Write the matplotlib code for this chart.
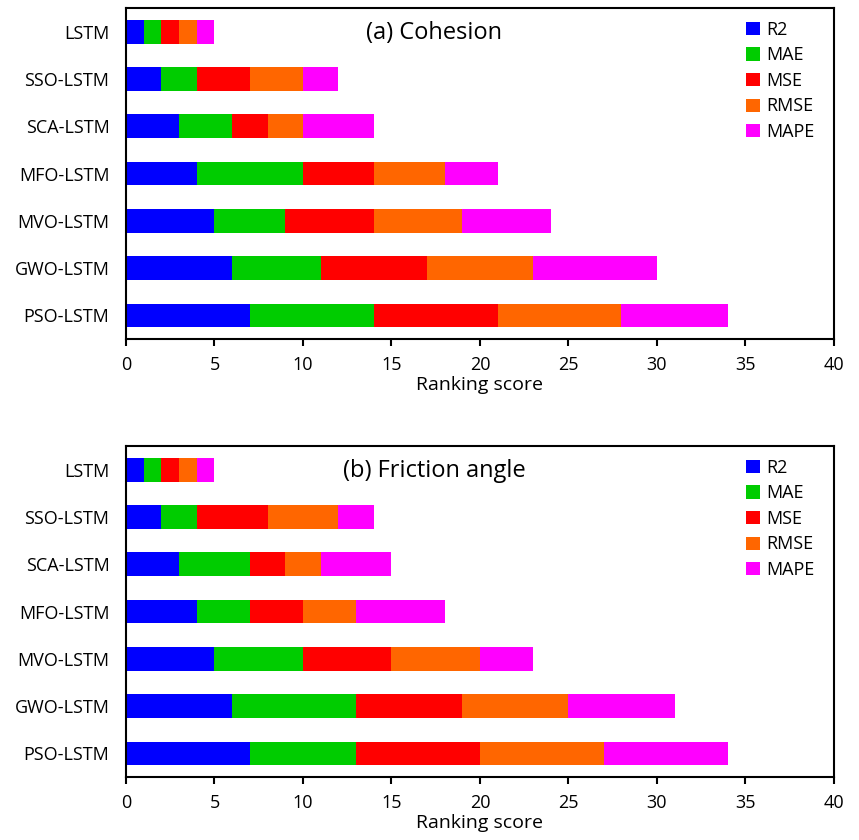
import matplotlib.pyplot as plt
import numpy as np

plt.rcParams['font.family'] = ['Open Sans', 'DejaVu Sans']

models = ['LSTM', 'SSO-LSTM', 'SCA-LSTM', 'MFO-LSTM', 'MVO-LSTM', 'GWO-LSTM', 'PSO-LSTM']
metrics = ['R2', 'MAE', 'MSE', 'RMSE', 'MAPE']
colors = ['#0000FF', '#00CC00', '#FF0000', '#FF6600', '#FF00FF']

# ranking scores per metric, (a) cohesion
coh_r2 = [1, 2, 3, 4, 5, 6, 7]
coh_mae = [1, 2, 3, 6, 4, 5, 7]
coh_mse = [1, 3, 2, 4, 5, 6, 7]
coh_rmse = [1, 3, 2, 4, 5, 6, 7]
coh_mape = [1, 2, 4, 3, 5, 7, 6]

# (b) friction angle
fri_r2 = [1, 2, 3, 4, 5, 6, 7]
fri_mae = [1, 2, 4, 3, 5, 7, 6]
fri_mse = [1, 4, 2, 3, 5, 6, 7]
fri_rmse = [1, 4, 2, 3, 5, 6, 7]
fri_mape = [1, 2, 4, 5, 3, 6, 7]

panels = [
    ('(a) Cohesion', [coh_r2, coh_mae, coh_mse, coh_rmse, coh_mape]),
    ('(b) Friction angle', [fri_r2, fri_mae, fri_mse, fri_rmse, fri_mape]),
]

fig = plt.figure(figsize=(8.59, 8.4), dpi=100)
boxes = [[0.1467, 0.5964, 0.824, 0.394], [0.1467, 0.075, 0.824, 0.394]]

for box, (title, series) in zip(boxes, panels):
    ax = fig.add_axes(box)
    y = np.arange(len(models))
    left = np.zeros(len(models))
    for vals, name, c in zip(series, metrics, colors):
        ax.barh(y, vals, left=left, height=0.5, color=c, label=name)
        left += np.array(vals)
    ax.set_yticks(y)
    ax.set_yticklabels(models, fontsize=13)
    ax.set_ylim(6.5, -0.5)
    ax.set_xlim(0, 40)
    ax.set_xticks(range(0, 41, 5))
    ax.tick_params(axis='x', labelsize=13, direction='out', length=5, width=1.5, pad=7)
    ax.tick_params(axis='y', length=0, pad=12)
    for s in ax.spines.values():
        s.set_linewidth(1.5)
    ax.set_xlabel('Ranking score', fontsize=14, labelpad=2)
    ax.text(0.435, 0.925, title, transform=ax.transAxes, fontsize=17,
            ha='center', va='center')
    ax.legend(loc='upper right', frameon=False, fontsize=13, handlelength=0.75,
              handleheight=0.75, handletextpad=0.35, labelspacing=0.42,
              borderaxespad=0.3, bbox_to_anchor=(0.99, 1.0))

plt.savefig('out.png', dpi=100)
